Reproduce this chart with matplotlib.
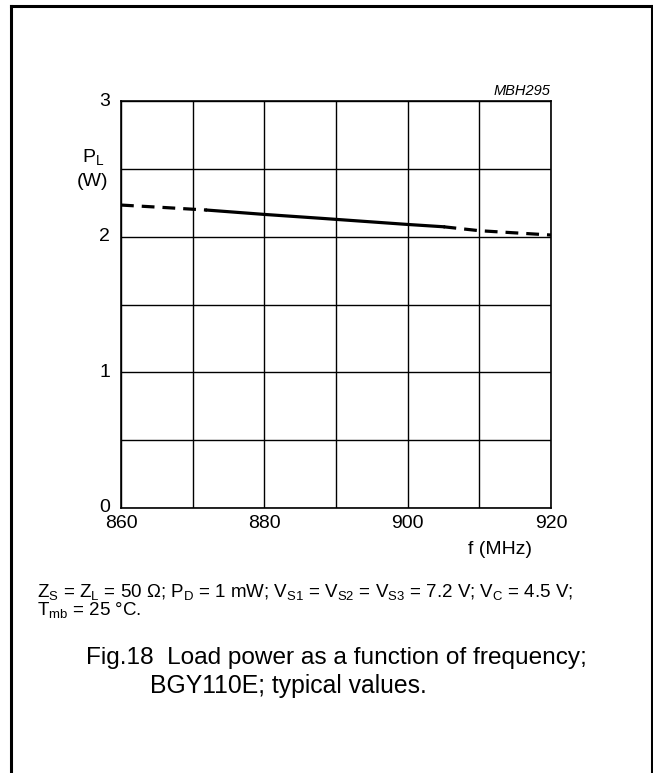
import numpy as np
import matplotlib
matplotlib.use("Agg")
import matplotlib.pyplot as plt

plt.rcParams['font.family'] = ['Liberation Sans', 'DejaVu Sans']
plt.rcParams['mathtext.default'] = 'regular'

# values
freq_dash_lo = [860, 866, 872]
pl_dash_lo = [2.233, 2.215, 2.196]
freq_solid = [872, 880, 888, 900, 905]
pl_solid = [2.196, 2.164, 2.135, 2.090, 2.073]
freq_dash_hi = [905, 910, 915, 920]
pl_dash_hi = [2.073, 2.044, 2.028, 2.012]

x_ticks = [860, 880, 900, 920]
y_ticks = [0, 1, 2, 3]

W, H = 653, 773
fig = plt.figure(figsize=(W / 100, H / 100), dpi=100)

def fx(px):
    return px / W

def fy(py):
    return 1 - py / H

# outer frame (open at the bottom)
fig.add_artist(plt.Line2D([fx(11), fx(11)], [fy(6), 0], color='black', lw=2.2))
fig.add_artist(plt.Line2D([fx(11), fx(652)], [fy(6), fy(6)], color='black', lw=2.2))
fig.add_artist(plt.Line2D([fx(651.5), fx(651.5)], [fy(6), 0], color='black', lw=2.2))

ax_l, ax_r, ax_t, ax_b = 121, 551, 101, 508
ax = fig.add_axes([fx(ax_l), fy(ax_b), fx(ax_r - ax_l), (ax_b - ax_t) / H])
ax.set_xlim(860, 920)
ax.set_ylim(0, 3)
ax.set_xticks(np.arange(860, 921, 10))
ax.set_yticks(np.arange(0, 3.01, 0.5))
ax.grid(True, color='black', lw=1.0)
ax.tick_params(length=0, labelbottom=False, labelleft=False)
for s in ax.spines.values():
    s.set_linewidth(1.2)

ax.plot(freq_dash_lo, pl_dash_lo, color='black', lw=2.3, ls=(0, (4, 2.5)))
ax.plot(freq_solid, pl_solid, color='black', lw=2.3)
ax.plot(freq_dash_hi, pl_dash_hi, color='black', lw=2.3, ls=(0, (4, 2.5)))

for v in x_ticks:
    ax.text(v, -0.05, str(v), ha='center', va='top', fontsize=14)
for v in y_ticks:
    ax.text(858.5, v, str(v), ha='right', va='center', fontsize=14)

fig.text(fx(93), fy(157), r'P$_L$', ha='center', va='center', fontsize=14)
fig.text(fx(93), fy(182), '(W)', ha='center', va='center', fontsize=14)
fig.text(fx(500), fy(549), 'f (MHz)', ha='center', va='center', fontsize=14)
fig.text(fx(550), fy(91), 'MBH295', ha='right', va='center', fontsize=10.5,
         style='italic')

conditions = (r'Z$_S$ = Z$_L$ = 50 Ω; P$_D$ = 1 mW; V$_{S1}$ = V$_{S2}$ = V$_{S3}$ = 7.2 V; V$_C$ = 4.5 V;'
              '\n' r'T$_{mb}$ = 25 °C.')
fig.text(fx(37), fy(582), conditions, ha='left', va='top', fontsize=13.5,
         linespacing=0.85)

fig.text(fx(86), fy(658), 'Fig.18  Load power as a function of frequency;',
         ha='left', va='center', fontsize=17.6)
fig.text(fx(150), fy(686), 'BGY110E; typical values.',
         ha='left', va='center', fontsize=17.8)

fig.savefig('out.png', dpi=100)
